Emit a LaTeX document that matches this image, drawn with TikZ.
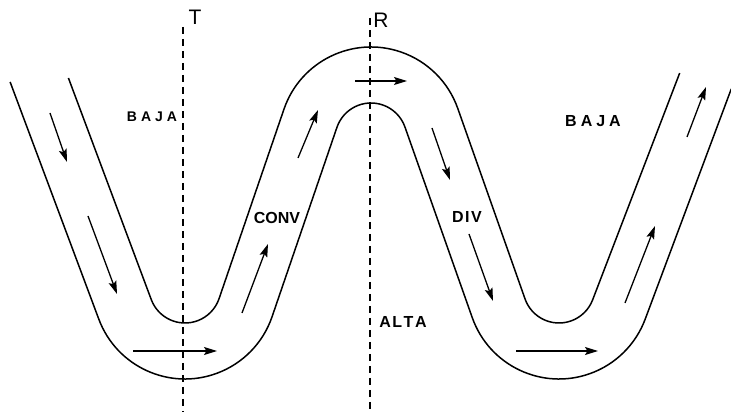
\documentclass[tikz,border=0pt]{standalone}
\usepackage{fontspec}
\newfontfamily\lblfont{Liberation Sans}
\usetikzlibrary{arrows.meta,calc}
\newcommand\lspA{\kern1.5pt}
\newcommand\lspB{\kern4pt}
\begin{document}
\begin{tikzpicture}[x=1pt,y=1pt,
  band/.style={line width=1.5pt},
  axis/.style={line width=1.3pt, dash pattern=on 7pt off 5pt},
  flow/.style={line width=1.3pt, -{Stealth[length=13pt,width=8pt,inset=2.5pt]}},
  lbl/.style={font=\lblfont\bfseries\fontsize{16}{16}\selectfont, inner sep=0pt},
  lblsmall/.style={font=\lblfont\bfseries\fontsize{14}{14}\selectfont, inner sep=0pt},
  axlbl/.style={font=\lblfont\fontsize{21}{21}\selectfont, inner sep=0pt}]
\useasboundingbox (0,0) rectangle (731,412);
\fill[white] (0,0) rectangle (731,412);
\coordinate (C1) at (185,125);
\coordinate (C2) at (371,273);
\coordinate (C3) at (559,125);
% upper edge of the band
\draw[band] ($(C1)+(200.5:36)+(110.5:236.6)$) -- ($(C1)+(200.5:36)$)
  arc[start angle=200.5,end angle=341,radius=36]
  -- ($(C2)+(161:92)$) arc[start angle=161,end angle=19.5,radius=92]
  -- ($(C3)+(199.5:36)$) arc[start angle=199.5,end angle=339,radius=36]
  -- ++(69:243);
% lower edge of the band
\draw[band] ($(C1)+(200.5:92)+(110.5:253.3)$) -- ($(C1)+(200.5:92)$)
  arc[start angle=200.5,end angle=341,radius=92]
  -- ($(C2)+(161:36)$) arc[start angle=161,end angle=19.5,radius=36]
  -- ($(C3)+(199.5:92)$) arc[start angle=199.5,end angle=339.5,radius=92]
  -- ++(69.5:246);
% axes
\draw[axis] (183,385) -- (183,0);
\draw[axis] (370,394) -- (370,0);
\node[axlbl] (T) at (195,395) {T};
\node[axlbl] (R) at (381,392) {R};
% labels
\node[lblsmall] (baja1) at (152,295) {B\lspB A\lspB J\lspB A};
\node[lbl] (baja2) at (593,291) {B\lspB A\lspB J\lspB A};
\node[lbl] (conv) at (277,194.5) {CONV};
\node[lbl] (div) at (467,195) {D\lspA I\lspA V};
\node[lbl] (alta) at (403,90) {A\lspA L\lspA T\lspA A};
% flow arrows
\draw[flow] (50,299) -- (67,250);
\draw[flow] (88,196) -- (117,118);
\draw[flow] (133,61) -- (217,61);
\draw[flow] (242,99) -- (268,168);
\draw[flow] (298,254) -- (318,302);
\draw[flow] (355,331) -- (407,331);
\draw[flow] (432,284) -- (450,232);
\draw[flow] (469,178) -- (493,111);
\draw[flow] (516,61) -- (598,61);
\draw[flow] (625,109) -- (655,186);
\draw[flow] (687,275) -- (706,325);
\end{tikzpicture}
\end{document}
